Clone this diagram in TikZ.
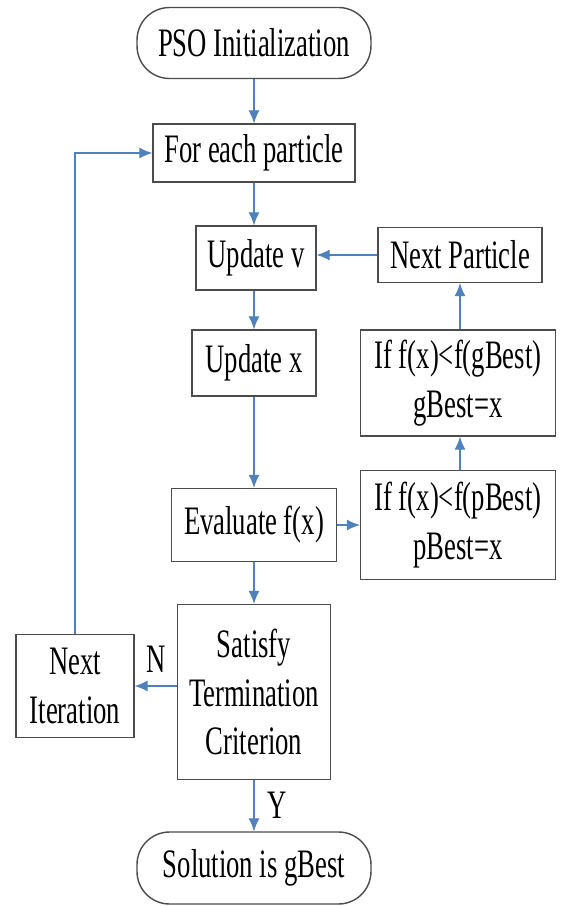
\documentclass[tikz,border=0pt]{standalone}
\usepackage{fontspec}
\setmainfont[FakeStretch=0.66]{Liberation Serif}
\usetikzlibrary{arrows.meta}

\definecolor{flowblue}{RGB}{79,129,189}
\tikzset{
	box/.style={draw=black!70,line width=0.8pt,align=center,inner sep=0pt,
		font=\fontsize{23}{27.5}\selectfont},
	term/.style={box,rounded corners=0.65cm},
	flow/.style={draw=flowblue,line width=0.6pt,
		-{Latex[length=0.26cm,width=0.22cm]}}
}

\begin{document}
\begin{tikzpicture}[x=0.02cm,y=-0.02cm]
		\useasboundingbox (0,0) rectangle (563,906);
		% main column
		\node[term,minimum width=4.68cm,minimum height=1.42cm] (init) at (254,43) {PSO Initialization};
		\node[box,minimum width=4.04cm,minimum height=1.16cm] (each) at (254,153) {For each particle};
		\node[box,minimum width=2.4cm,minimum height=1.28cm] (updv) at (256,258) {Update v};
		\node[box,minimum width=2.48cm,minimum height=1.32cm] (updx) at (254,363) {Update x};
		\node[box,minimum width=3.3cm,minimum height=1.46cm] (eval) at (254,525) {Evaluate f(x)};
		\node[box,minimum width=3.06cm,minimum height=3.5cm] (crit) at (254,692) {Satisfy\\Termination\\Criterion};
		\node[term,minimum width=4.68cm,minimum height=1.44cm] (sol) at (254,868) {Solution is gBest};
		% right column
		\node[box,minimum width=3.28cm,minimum height=1.1cm] (nextp) at (460,255) {Next Particle};
		\node[box,minimum width=3.9cm,minimum height=2.12cm] (gbest) at (458,383) {If f(x)<f(gBest)\\gBest=x};
		\node[box,minimum width=3.9cm,minimum height=2.18cm] (pbest) at (458,525) {If f(x)<f(pBest)\\pBest=x};
		% left column
		\node[box,minimum width=2.36cm,minimum height=2.06cm] (nexti) at (75,686) {Next\\Iteration};

		% straight runs down the main column
		\draw[flow] (init) -- (each);
		\draw[flow] (each) -- (each |- updv.north);
		\draw[flow] (updv.south -| each) -- (updx);
		\draw[flow] (updx) -- (eval);
		\draw[flow] (eval) -- (crit);
		\draw[flow] (eval) -- (pbest);
		\draw[flow] (pbest.north -| nextp) -- (gbest.south -| nextp);
		\draw[flow] (gbest.north -| nextp) -- (nextp);
		\draw[flow] (nextp.west) -- (nextp.west -| updv.east);
		\draw[flow] (crit.west |- nexti.east) -- (nexti.east)
			node[midway,above=4pt,font=\fontsize{23}{27.5}\selectfont] {N};
		\draw[flow] (nexti.north) |- (each.west);
		\draw[flow] (crit) -- (sol)
			node[midway,right=4pt,font=\fontsize{23}{27.5}\selectfont] {Y};
		\end{tikzpicture}
\end{document}
